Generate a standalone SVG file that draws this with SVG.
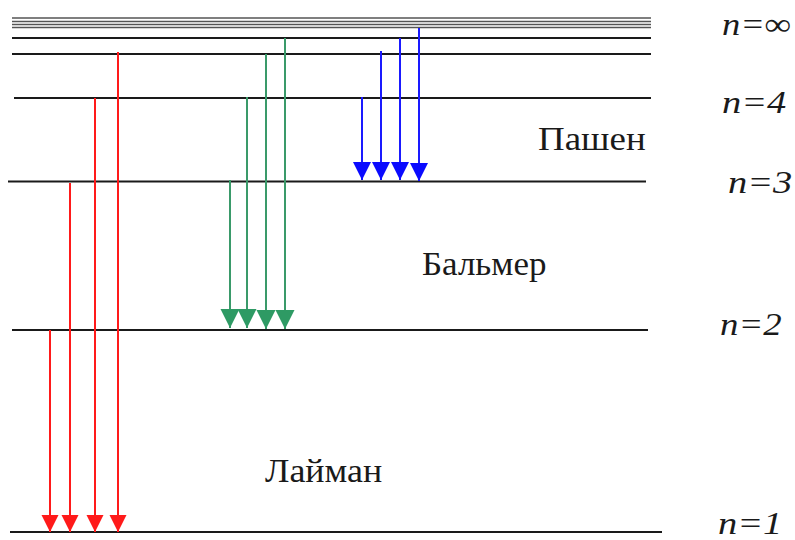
<svg xmlns="http://www.w3.org/2000/svg" width="795" height="540" viewBox="0 0 795 540">
<defs>
<marker id="hr" markerUnits="userSpaceOnUse" markerWidth="18" markerHeight="18" refX="17" refY="8.5" orient="auto"><path d="M0,0 L17,8.5 L0,17 z" fill="#ff1a1a"/></marker>
<marker id="hg" markerUnits="userSpaceOnUse" markerWidth="20" markerHeight="20" refX="19" refY="9.5" orient="auto"><path d="M0,0 L19,9.5 L0,19 z" fill="#2e9a64"/></marker>
<marker id="hb" markerUnits="userSpaceOnUse" markerWidth="19" markerHeight="19" refX="18" refY="9" orient="auto"><path d="M0,0 L18,9 L0,18 z" fill="#0a0aff"/></marker>
</defs>
<g id="levels" stroke="#1a1a1a" stroke-width="2" fill="none">
<g id="level-inf" stroke="#555" stroke-width="1.6">
<line x1="12" y1="18" x2="651" y2="18"/>
<line x1="12" y1="21.5" x2="651" y2="21.5"/>
<line x1="12" y1="24.5" x2="651" y2="24.5"/>
<line x1="12" y1="27.5" x2="651" y2="27.5"/>
</g>
<g id="level-6"><line x1="12" y1="38" x2="651" y2="38"/></g>
<g id="level-5"><line x1="12" y1="54" x2="651" y2="54"/></g>
<g id="level-4"><line x1="14" y1="98" x2="651" y2="98"/></g>
<g id="level-3"><line x1="8" y1="181.5" x2="646" y2="181.5"/></g>
<g id="level-2"><line x1="12" y1="330" x2="648" y2="330"/></g>
<g id="level-1"><line x1="10" y1="532" x2="662" y2="532"/></g>
</g>
<g id="level-labels">
<text transform="translate(722,35) scale(1.14,1)" font-family="Liberation Serif" style="font-family:'Liberation Serif'" font-style="italic" font-size="32" fill="#1a1a1a">n=∞</text>
<text transform="translate(722,113) scale(1.2,1)" font-family="Liberation Serif" style="font-family:'Liberation Serif'" font-style="italic" font-size="32" fill="#1a1a1a">n=4</text>
<text transform="translate(728,193) scale(1.2,1)" font-family="Liberation Serif" style="font-family:'Liberation Serif'" font-style="italic" font-size="32" fill="#1a1a1a">n=3</text>
<text transform="translate(720,335) scale(1.15,1)" font-family="Liberation Serif" style="font-family:'Liberation Serif'" font-style="italic" font-size="32" fill="#1a1a1a">n=2</text>
<text transform="translate(718,534) scale(1.2,1)" font-family="Liberation Serif" style="font-family:'Liberation Serif'" font-style="italic" font-size="32" fill="#1a1a1a">n=1</text>
</g>
<g id="series-labels">
<text id="paschen-label" transform="translate(538,150) scale(1.12,1)" font-family="Liberation Serif" style="font-family:'Liberation Serif'" font-size="33" fill="#1a1a1a">Пашен</text>
<text id="balmer-label" transform="translate(422,275) scale(1.06,1)" font-family="Liberation Serif" style="font-family:'Liberation Serif'" font-size="33" fill="#1a1a1a">Бальмер</text>
<text id="lyman-label" transform="translate(265,482) scale(1.09,1)" font-family="Liberation Serif" style="font-family:'Liberation Serif'" font-size="33" fill="#1a1a1a">Лайман</text>
</g>
<g id="connectors" stroke-width="2" fill="none">
<g id="lyman" stroke="#ff1a1a" marker-end="url(#hr)">
<line x1="50" y1="330" x2="50" y2="532"/>
<line x1="70" y1="183" x2="70" y2="532"/>
<line x1="95" y1="98" x2="95" y2="532"/>
<line x1="118" y1="52" x2="118" y2="532"/>
</g>
<g id="balmer" stroke="#3a9a6a" marker-end="url(#hg)">
<line x1="230" y1="180" x2="230" y2="328"/>
<line x1="247" y1="97" x2="247" y2="328"/>
<line x1="266" y1="54" x2="266" y2="329"/>
<line x1="285" y1="38" x2="285" y2="329"/>
</g>
<g id="paschen" stroke="#1a1aff" marker-end="url(#hb)">
<line x1="362" y1="97" x2="362" y2="180"/>
<line x1="381" y1="51" x2="381" y2="180"/>
<line x1="400" y1="38" x2="400" y2="180"/>
<line x1="419" y1="28" x2="419" y2="181"/>
</g>
</g>
</svg>
